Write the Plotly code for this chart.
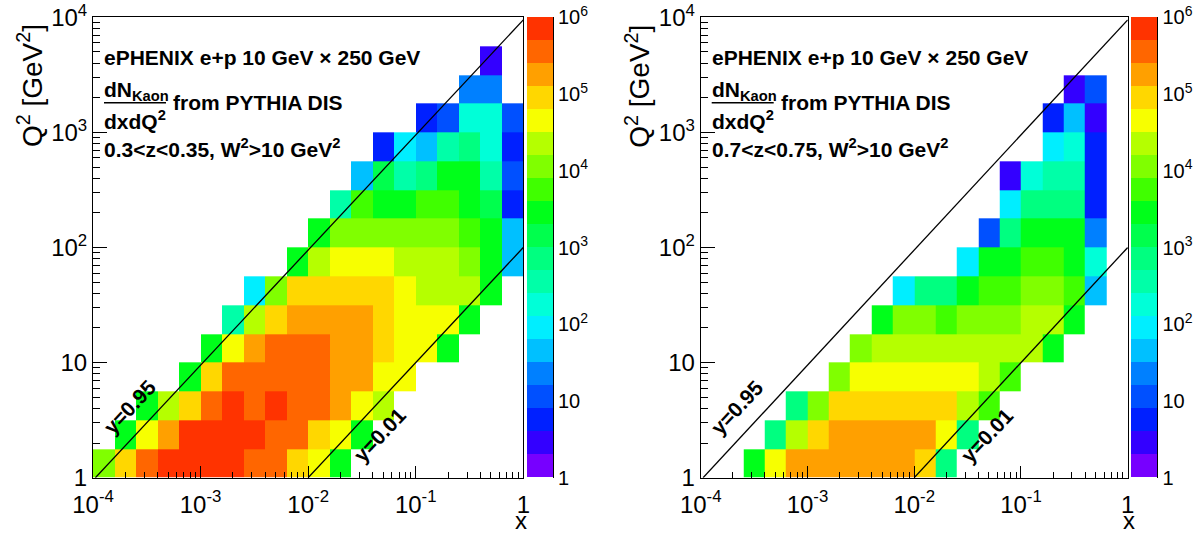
import numpy as np
import plotly.graph_objects as go

W, H = 1198, 537

# ---------------- data ----------------
# histogram binning: 20 log bins in x (1e-4..1), 16 log bins in Q2 (1..1e4)
x_bin_edges = np.logspace(-4, 0, 21)
q2_bin_edges = np.logspace(0, 4, 17)

x_tick_vals = [1e-4, 1e-3, 1e-2, 1e-1, 1]
x_tick_text = ["10<sup>-4</sup>", "10<sup>-3</sup>", "10<sup>-2</sup>", "10<sup>-1</sup>", "1"]
q2_tick_vals = [1, 10, 100, 1000, 10000]
q2_tick_text = ["1", "10", "10<sup>2</sup>", "10<sup>3</sup>", "10<sup>4</sup>"]
z_tick_vals = [1, 10, 1e2, 1e3, 1e4, 1e5, 1e6]
z_tick_text = ["1", "10", "10<sup>2</sup>", "10<sup>3</sup>", "10<sup>4</sup>", "10<sup>5</sup>", "10<sup>6</sup>"]

_ = None
# counts, rows = Q2 bins from low to high, columns = x bins from low to high
counts_z030 = [
    [1.1e4, 8.9e4, 3.5e5, 7.1e5, 7.1e5, 7.1e5, 7.1e5, 3.5e5, 3.5e5, 8.9e4, 4.5e4, 2800, _, _, _, _, _, _, _, _],
    [_, 2800, 4.5e4, 1.8e5, 7.1e5, 7.1e5, 7.1e5, 7.1e5, 3.5e5, 3.5e5, 8.9e4, 4.5e4, 2800, _, _, _, _, _, _, _],
    [_, _, 2800, 2.2e4, 8.9e4, 3.5e5, 7.1e5, 3.5e5, 7.1e5, 3.5e5, 3.5e5, 1.8e5, 4.5e4, 2.2e4, _, _, _, _, _, _],
    [_, _, _, _, 2800, 8.9e4, 3.5e5, 3.5e5, 3.5e5, 3.5e5, 3.5e5, 1.8e5, 1.8e5, 4.5e4, 4.5e4, _, _, _, _, _],
    [_, _, _, _, _, 2800, 4.5e4, 1.8e5, 3.5e5, 3.5e5, 3.5e5, 1.8e5, 1.8e5, 8.9e4, 4.5e4, 4.5e4, 2800, _, _, _],
    [_, _, _, _, _, _, 350, 2.2e4, 8.9e4, 1.8e5, 1.8e5, 1.8e5, 1.8e5, 8.9e4, 4.5e4, 4.5e4, 4.5e4, 2800, _, _],
    [_, _, _, _, _, _, _, 89, 1.1e4, 8.9e4, 8.9e4, 8.9e4, 8.9e4, 8.9e4, 4.5e4, 2.2e4, 2.2e4, 2.2e4, 2800, _],
    [_, _, _, _, _, _, _, _, _, 2800, 2.2e4, 4.5e4, 4.5e4, 4.5e4, 2.2e4, 2.2e4, 2.2e4, 1.1e4, 2800, 45],
    [_, _, _, _, _, _, _, _, _, _, 2800, 1.1e4, 1.1e4, 1.1e4, 1.1e4, 1.1e4, 1.1e4, 5600, 2800, 45],
    [_, _, _, _, _, _, _, _, _, _, _, 350, 5600, 2800, 2800, 5600, 5600, 2800, 1400, 5.6],
    [_, _, _, _, _, _, _, _, _, _, _, _, 45, 1400, 350, 710, 2800, 2800, 350, 11],
    [_, _, _, _, _, _, _, _, _, _, _, _, _, 5.6, 89, 45, 350, 710, 180, 5.6],
    [_, _, _, _, _, _, _, _, _, _, _, _, _, _, _, 5.6, 11, 180, 180, 11],
    [_, _, _, _, _, _, _, _, _, _, _, _, _, _, _, _, _, 22, 22, _],
    [_, _, _, _, _, _, _, _, _, _, _, _, _, _, _, _, _, _, 2.8, _],
    [_, _, _, _, _, _, _, _, _, _, _, _, _, _, _, _, _, _, _, _],
]

counts_z070 = [
    [_, _, 2800, 4.5e4, 1.8e5, 1.8e5, 1.8e5, 1.8e5, 1.8e5, 1.8e5, 8.9e4, 710, _, _, _, _, _, _, _, _],
    [_, _, _, 710, 2.2e4, 8.9e4, 1.8e5, 1.8e5, 1.8e5, 1.8e5, 1.8e5, 4.5e4, 710, _, _, _, _, _, _, _],
    [_, _, _, _, 710, 1.1e4, 8.9e4, 8.9e4, 8.9e4, 8.9e4, 8.9e4, 8.9e4, 2.2e4, 5600, _, _, _, _, _, _],
    [_, _, _, _, _, _, 1.1e4, 4.5e4, 4.5e4, 4.5e4, 4.5e4, 4.5e4, 4.5e4, 2.2e4, 5600, _, _, _, _, _],
    [_, _, _, _, _, _, _, 1.1e4, 2.2e4, 2.2e4, 2.2e4, 2.2e4, 2.2e4, 2.2e4, 2.2e4, 2.2e4, 2800, _, _, _],
    [_, _, _, _, _, _, _, _, 2800, 1.1e4, 1.1e4, 5600, 1.1e4, 1.1e4, 1.1e4, 2.2e4, 2.2e4, 2800, _, _],
    [_, _, _, _, _, _, _, _, _, 89, 710, 710, 2800, 5600, 5600, 1.1e4, 1.1e4, 5600, 45, _],
    [_, _, _, _, _, _, _, _, _, _, _, _, 89, 2800, 2800, 5600, 5600, 2800, 180, _],
    [_, _, _, _, _, _, _, _, _, _, _, _, _, 11, 710, 2800, 2800, 2800, 22, _],
    [_, _, _, _, _, _, _, _, _, _, _, _, _, _, 89, 710, 710, 710, 5.6, _],
    [_, _, _, _, _, _, _, _, _, _, _, _, _, _, 2.8, 180, 350, 350, 5.6, _],
    [_, _, _, _, _, _, _, _, _, _, _, _, _, _, _, _, 89, 180, 5.6, _],
    [_, _, _, _, _, _, _, _, _, _, _, _, _, _, _, _, 5.6, 45, 2.8, _],
    [_, _, _, _, _, _, _, _, _, _, _, _, _, _, _, _, _, 2.8, 11, _],
    [_, _, _, _, _, _, _, _, _, _, _, _, _, _, _, _, _, _, _, _],
    [_, _, _, _, _, _, _, _, _, _, _, _, _, _, _, _, _, _, _, _],
]

z_ranges = ["0.3&lt;z&lt;0.35", "0.7&lt;z&lt;0.75"]
inelasticity_lines = [0.95, 0.01]
line_labels = ["y=0.95", "y=0.01"]
s_cm = 4 * 10.0 * 250.0  # e+p 10 GeV x 250 GeV

# ROOT-like 20 level palette (bottom -> top)
palette = ["#7700ff", "#3300ff", "#0020ff", "#0050ff", "#0080ff", "#00c0ff", "#00eeff",
           "#00ffd8", "#00ffa8", "#00ff80", "#00ff4d", "#00ff1a", "#40ff00", "#80ff00",
           "#b5ff00", "#f7ff00", "#ffd700", "#ffa000", "#ff6600", "#ff3300"]
nlev = len(palette)
colorscale = []
for k, c in enumerate(palette):
    colorscale.append([k / nlev, c])
    colorscale.append([(k + 1) / nlev, c])

def to_log(grid):
    return [[(np.log10(v) if v is not None else None) for v in row] for row in grid]

def PX(px):
    return px / W

def PY(py):
    return 1 - py / H

FONT = "Liberation Sans, Arial, Helvetica, sans-serif"

# panel geometry (pixels)
panels = [
    dict(x0=93.0, x1=523.3, cb0=526.7, cb1=553.0, shift=0.0),
    dict(x0=700.7, x1=1127.7, cb0=1131.1, cb1=1157.4, shift=607.7),
]
top, bot = 17.3, 477.7

fig = go.Figure()
annotations = []
shapes = []

def ann(text, x, y, size=21, angle=0, xanchor="left", yanchor="middle"):
    return dict(text=text, xref="paper", yref="paper", x=PX(x), y=PY(y), textangle=angle,
                xanchor=xanchor, yanchor=yanchor, showarrow=False, borderpad=0,
                font=dict(family=FONT, size=size, color="black"))

for i, (grid, zr, pan) in enumerate(zip([counts_z030, counts_z070], z_ranges, panels)):
    xa = "x" if i == 0 else "x2"
    ya = "y" if i == 0 else "y2"
    fig.add_trace(go.Heatmap(
        x=x_bin_edges, y=q2_bin_edges, z=to_log(grid),
        xaxis=xa, yaxis=ya,
        zmin=0, zmax=6, colorscale=colorscale, hoverinfo="skip",
        colorbar=dict(
            x=PX(pan["cb0"]), xanchor="left", xpad=0, ypad=0,
            y=PY((top + bot) / 2), yanchor="middle",
            len=(bot - top) / H, lenmode="fraction",
            thickness=pan["cb1"] - pan["cb0"], thicknessmode="pixels",
            outlinewidth=0, showticklabels=False, ticks="",
        ),
    ))
    # kinematic lines Q2 = x y s
    for yv in inelasticity_lines:
        xs = np.array([1.0 / (yv * s_cm), 1.0])
        fig.add_trace(go.Scatter(x=xs, y=xs * yv * s_cm, mode="lines",
                                 line=dict(color="black", width=1.3),
                                 xaxis=xa, yaxis=ya, hoverinfo="skip", showlegend=False))
    # invisible trace for palette axis
    fig.add_trace(go.Scatter(x=[1e-2], y=[10], mode="markers", marker=dict(opacity=0),
                             xaxis=xa, yaxis="y3" if i == 0 else "y4",
                             hoverinfo="skip", showlegend=False))

    sh = pan["shift"]
    annotations += [
        ann("<b>ePHENIX e+p 10 GeV × 250 GeV</b>", 103 + sh, 57),
        ann("<b>dN<sub>Kaon</sub></b>", 103 + sh, 91),
        ann("<b>dxdQ<sup>2</sup></b>", 103 + sh, 120),
        ann("<b>from PYTHIA DIS</b>", 172 + sh, 103),
        ann("<b>%s, W<sup>2</sup>&gt;10 GeV<sup>2</sup></b>" % zr, 103 + sh, 148),
        ann("<b>%s</b>" % line_labels[0], 129 + sh, 407, angle=-47, xanchor="center"),
        ann("<b>%s</b>" % line_labels[1], 379 + sh, 435, angle=-47, xanchor="center"),
        ann("Q<sup>2</sup> [GeV<sup>2</sup>]", 30 + sh, 86, size=28, angle=-90, xanchor="center"),
        ann("x", 521 + sh, 535, size=24, xanchor="center", yanchor="bottom"),
    ]
    shapes.append(dict(type="line", xref="paper", yref="paper", x0=PX(104 + sh), x1=PX(166 + sh),
                       y0=PY(102.7), y1=PY(102.7), line=dict(color="black", width=1.5)))

axis_common = dict(type="log", showgrid=False, zeroline=False, showline=True, linecolor="black", linewidth=1,
                   mirror=True, ticks="inside", tickcolor="black", tickwidth=1, automargin=False,
                   tickfont=dict(family=FONT, size=24, color="black"))

layout = dict(
    width=W, height=H, autosize=False, margin=dict(l=0, r=0, t=0, b=0, pad=0),
    paper_bgcolor="white", plot_bgcolor="white", showlegend=False,
    annotations=annotations, shapes=shapes,
)
for i, pan in enumerate(panels):
    xn = "xaxis" if i == 0 else "xaxis2"
    yn = "yaxis" if i == 0 else "yaxis2"
    cn = "yaxis3" if i == 0 else "yaxis4"
    ylink = "y" if i == 0 else "y2"
    layout[xn] = dict(axis_common, range=[-4, 0], domain=[PX(pan["x0"]), PX(pan["x1"])], anchor=ylink,
                      tickvals=x_tick_vals, ticktext=x_tick_text, ticklen=12, ticklabelstandoff=5,
                      minor=dict(ticks="inside", ticklen=6, dtick="D1", tickcolor="black", showgrid=False))
    layout[yn] = dict(axis_common, range=[0, 4], domain=[PY(bot), PY(top)], anchor="x" if i == 0 else "x2",
                      tickvals=q2_tick_vals, ticktext=q2_tick_text, ticklen=14,
                      minor=dict(ticks="inside", ticklen=7, dtick="D1", tickcolor="black", showgrid=False))
    layout[cn] = dict(type="log", range=[0, 6], overlaying=ylink, anchor="free", position=PX(pan["cb1"]),
                      side="right", showgrid=False, zeroline=False, showline=True, linecolor="black", linewidth=1,
                      ticks="inside", ticklen=10, tickcolor="black", tickvals=z_tick_vals, ticktext=z_tick_text,
                      automargin=False, tickfont=dict(family=FONT, size=20, color="black"),
                      minor=dict(ticks="inside", ticklen=5, dtick="D1", tickcolor="black", showgrid=False))

fig.update_layout(**layout)
fig.write_html("out.html", config={"responsive": False, "displayModeBar": False},
               post_script="document.body.style.margin='0px';document.body.style.overflow='hidden';")
